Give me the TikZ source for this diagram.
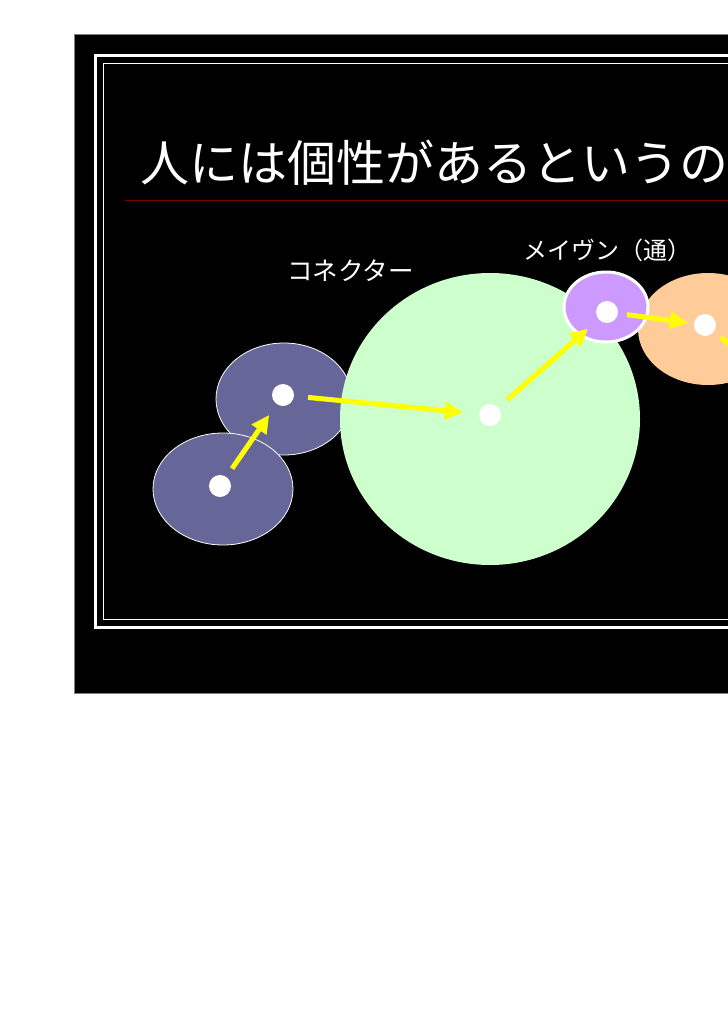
\documentclass[tikz,border=0pt]{standalone}
\usepackage{fontspec}
\setmainfont{Noto Sans CJK JP}
\usetikzlibrary{arrows.meta}
\definecolor{slidegray}{HTML}{808080}
\definecolor{rulered}{HTML}{800000}
\definecolor{blobblue}{HTML}{666699}
\definecolor{blobgreen}{HTML}{CCFFCC}
\definecolor{blobpurple}{HTML}{CC99FF}
\definecolor{bloborange}{HTML}{FFCC99}
\definecolor{arrowyellow}{HTML}{FFFF00}
\tikzset{
  dotnode/.style={circle, fill=white, minimum size=22pt, inner sep=0pt},
  yarrow/.style={draw=arrowyellow, line width=5pt, -{Triangle[length=18pt,width=17pt]}},
  labeltext/.style={anchor=base west, inner sep=0pt, text=white, font=\fontsize{24}{24}\selectfont},
  titletext/.style={anchor=base west, inner sep=0pt, text=white, font=\fontsize{49}{49}\selectfont},
}
\begin{document}
\begin{tikzpicture}[x=1pt,y=-1pt]
\useasboundingbox (0,0) rectangle (728,1031);
\fill[white] (0,0) rectangle (728,1031);
% slide
\draw[slidegray, fill=black, line width=1pt] (74,34) rectangle (800,693);
\draw[white, line width=3pt] (95.5,55.5) rectangle (800,627.5);
\draw[white, line width=1.2pt] (103.5,63.5) rectangle (800,619.5);
% title
\node[titletext] (title) at (140,181) {人には個性があるというの};
\draw[rulered, line width=1pt] (125,200) -- (760,200);
% labels
\node[labeltext, font=\fontsize{25.5}{25.5}\selectfont] (conn) at (287,280) {コネクター};
\node[labeltext] (maven) at (523,259) {メイヴン（通）};
% blobs
\draw[white, line width=0.8pt, fill=blobblue] (284,399) ellipse [x radius=68pt, y radius=56pt];
\draw[white, line width=0.8pt, fill=blobblue] (223,489) ellipse [x radius=70pt, y radius=56pt];
\fill[blobgreen] (490,419) ellipse [x radius=150pt, y radius=146pt];
\fill[bloborange] (708,329) ellipse [x radius=70pt, y radius=56pt];
\draw[white, line width=3pt, fill=blobpurple] (606,307) ellipse [x radius=42pt, y radius=35pt];
% dots
\node[dotnode] (d1) at (220,486) {};
\node[dotnode] (d2) at (283,395) {};
\node[dotnode] (d3) at (490,415) {};
\node[dotnode] (d4) at (607,312) {};
\node[dotnode] (d5) at (705,325) {};
\coordinate (next) at (760,368);
% arrows
\draw[yarrow, shorten <=10pt, shorten >=13pt] (d1) -- (d2);
\draw[yarrow, shorten <=14pt, shorten >=16pt] (d2) -- (d3);
\draw[yarrow, shorten <=12pt, shorten >=14pt] (d3) -- (d4);
\draw[yarrow, shorten <=9pt, shorten >=6pt] (d4) -- (d5);
\draw[yarrow, shorten <=9pt, shorten >=0pt] (d5) -- (next);
\end{tikzpicture}
\end{document}
